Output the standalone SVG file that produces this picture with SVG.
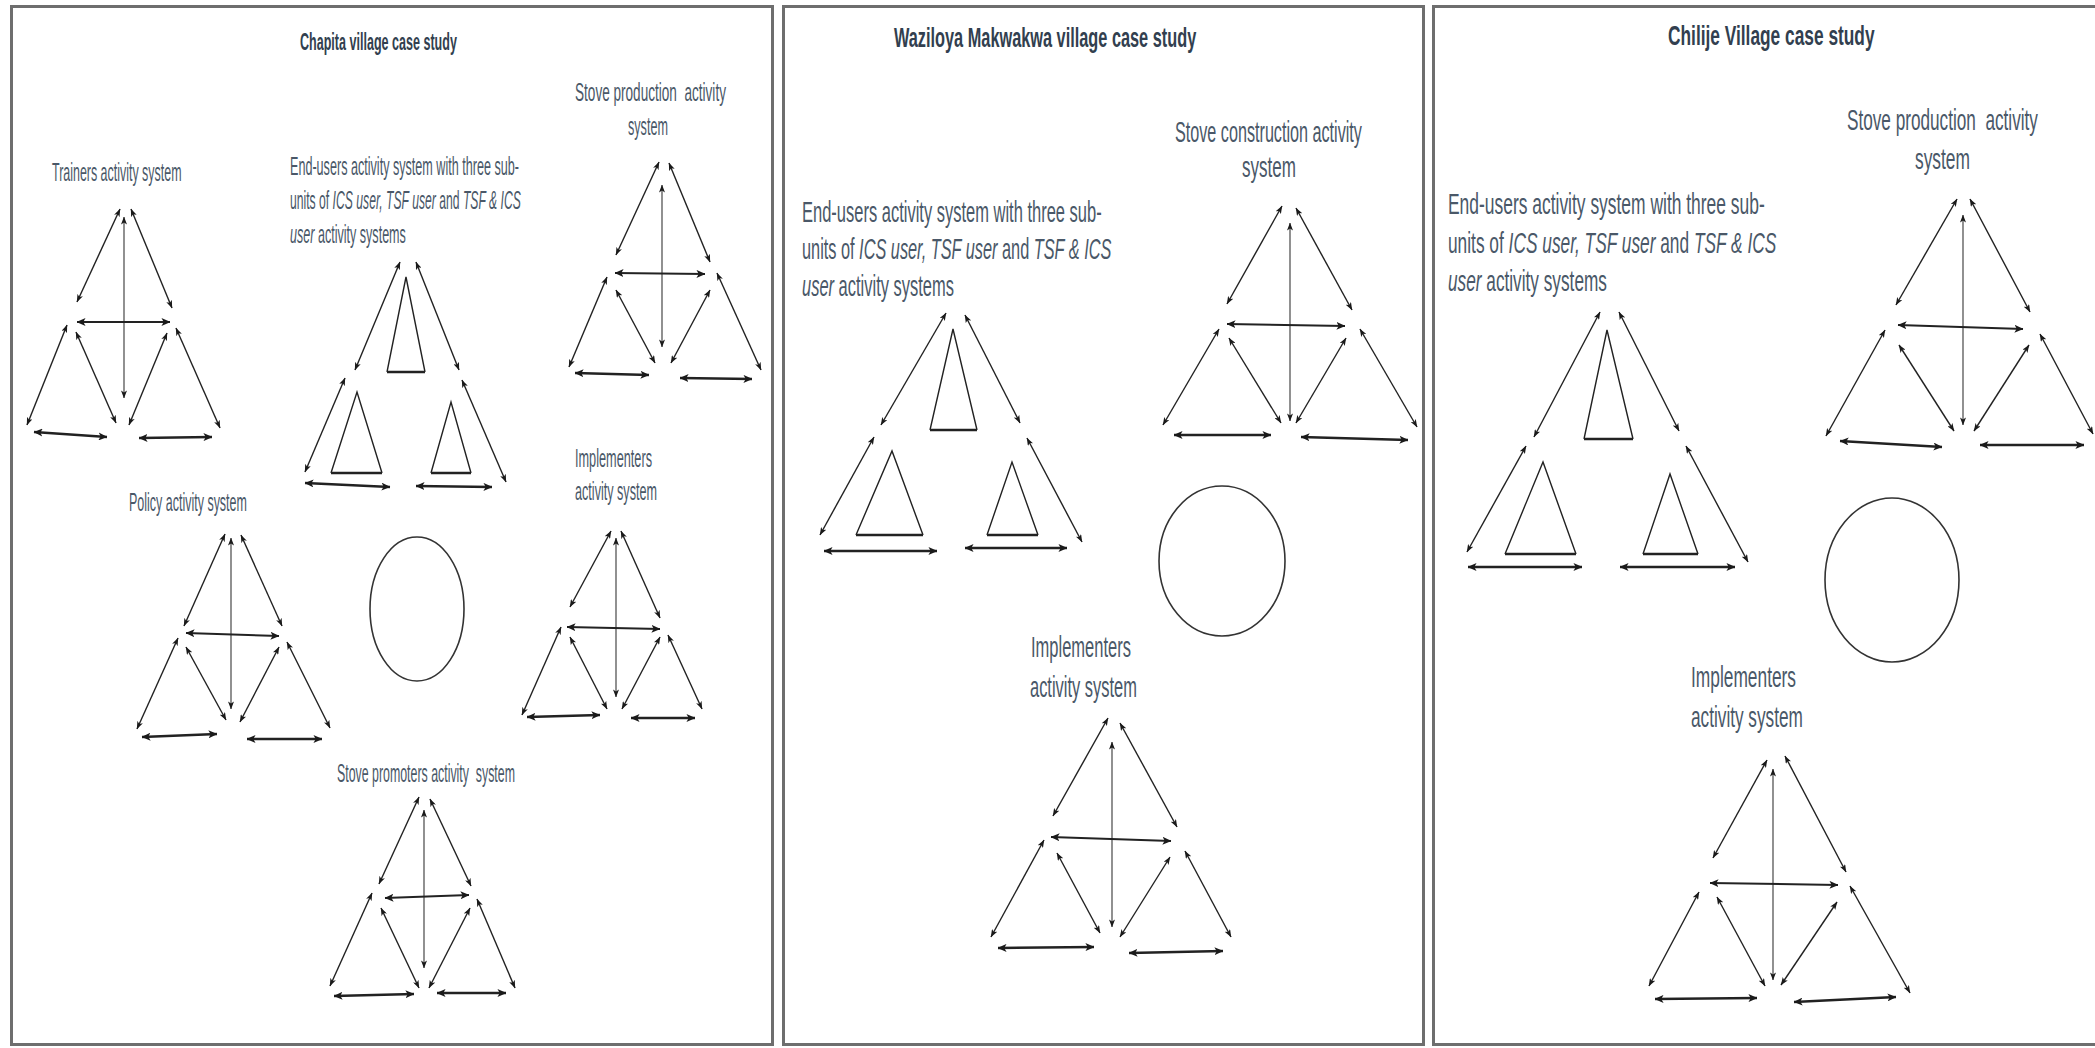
<svg xmlns="http://www.w3.org/2000/svg" width="2095" height="1048" viewBox="0 0 2095 1048">
<style>
.panel{fill:#fff;stroke:#6e6e6e;stroke-width:3}
.title{font-family:"Liberation Sans",Arial,sans-serif;font-weight:bold;fill:#323f4f}
.lbl{font-family:"Liberation Sans",Arial,sans-serif;fill:#4a5868}
.p1{font-size:25px}.p2{font-size:29px}.p3{font-size:30px}
.it{font-style:italic}
.a{stroke:#222;stroke-width:1.4;fill:none;marker-start:url(#ah);marker-end:url(#ah)}
.v{stroke:#555;stroke-width:1.3;fill:none;marker-start:url(#ah);marker-end:url(#ah)}
.m{stroke:#222;stroke-width:2;fill:none;marker-start:url(#ahb);marker-end:url(#ahb)}
.b{stroke:#222;stroke-width:2.6;fill:none;marker-start:url(#ahb);marker-end:url(#ahb)}
.tri{fill:none;stroke:#222;stroke-width:1.4}
.base{stroke:#222;stroke-width:2.4}
.ell{fill:none;stroke:#333;stroke-width:1.6}
</style>
<defs>
<marker id="ah" viewBox="0 0 10 10" refX="9.5" refY="5" markerWidth="8" markerHeight="6" markerUnits="userSpaceOnUse" orient="auto-start-reverse" preserveAspectRatio="none"><path d="M0,0 L10,5 L0,10 L2.5,5 z" fill="#1a1a1a"/></marker>
<marker id="ahb" viewBox="0 0 10 10" refX="9.5" refY="5" markerWidth="9" markerHeight="8" markerUnits="userSpaceOnUse" orient="auto-start-reverse" preserveAspectRatio="none"><path d="M0,0 L10,5 L0,10 L2.5,5 z" fill="#1a1a1a"/></marker>
</defs>
<rect width="2095" height="1048" fill="#fff"/>
<g id="panels">
<rect class="panel" x="11.5" y="6.5" width="761" height="1038"/>
<rect class="panel" x="783.5" y="6.5" width="640" height="1038"/>
<rect class="panel" x="1433.5" y="6.5" width="700" height="1038"/>
</g>
<g id="titles">
<text class="title" font-size="24" transform="translate(300,50) scale(0.523,1)">Chapita village case study</text>
<text class="title" font-size="27" transform="translate(894,47) scale(0.6045,1)">Waziloya Makwakwa village case study</text>
<text class="title" font-size="27" transform="translate(1668,45) scale(0.6415,1)">Chilije Village case study</text>
</g>
<g id="p1-trainers">
<text class="lbl p1" transform="translate(52,181) scale(0.498,1)">Trainers activity system</text>
</g>
<g id="p1-stove-production">
<text class="lbl p1" transform="translate(575,101) scale(0.5434,1)" xml:space="preserve">Stove production  activity</text>
<text class="lbl p1" transform="translate(628,135) scale(0.505,1)">system</text>
</g>
<g id="p1-end-users">
<text class="lbl p1" transform="translate(290,175) scale(0.504,1)">End-users activity system with three sub-</text>
<text class="lbl p1" transform="translate(290,209) scale(0.4868,1)">units of <tspan class="it">ICS user, TSF user</tspan> and <tspan class="it">TSF &amp; ICS</tspan></text>
<text class="lbl p1" transform="translate(290,243) scale(0.503,1)"><tspan class="it">user</tspan> activity systems</text>
<polyline class="tri" points="387,372 406,277 425,372"/><line class="base" x1="387" y1="372" x2="425" y2="372"/>
<polyline class="tri" points="331,473 357,392 382,473"/><line class="base" x1="331" y1="473" x2="382" y2="473"/>
<polyline class="tri" points="431,473 451,402 471,473"/><line class="base" x1="431" y1="473" x2="471" y2="473"/>
</g>
<g id="p1-object">
<ellipse class="ell" cx="417" cy="609" rx="47" ry="72"/>
</g>
<g id="p1-implementers">
<text class="lbl p1" transform="translate(575,467) scale(0.5085,1)">Implementers</text>
<text class="lbl p1" transform="translate(575,500) scale(0.5046,1)">activity system</text>
</g>
<g id="p1-policy">
<text class="lbl p1" transform="translate(129,511) scale(0.4996,1)">Policy activity system</text>
</g>
<g id="p1-stove-promoters">
<text class="lbl p1" transform="translate(337,782) scale(0.4947,1)" xml:space="preserve">Stove promoters activity  system</text>
</g>
<g id="p2-stove-construction">
<text class="lbl p2" transform="translate(1175,142) scale(0.5579,1)">Stove construction activity</text>
<text class="lbl p2" transform="translate(1242,177) scale(0.588,1)">system</text>
</g>
<g id="p2-end-users">
<text class="lbl p2" transform="translate(802,222) scale(0.569,1)">End-users activity system with three sub-</text>
<text class="lbl p2" transform="translate(802,259) scale(0.5626,1)">units of <tspan class="it">ICS user, TSF user</tspan> and <tspan class="it">TSF &amp; ICS</tspan></text>
<text class="lbl p2" transform="translate(802,296) scale(0.568,1)"><tspan class="it">user</tspan> activity systems</text>
<polyline class="tri" points="930,430 953,329 977,430"/><line class="base" x1="930" y1="430" x2="977" y2="430"/>
<polyline class="tri" points="856,535 892,451 923,535"/><line class="base" x1="856" y1="535" x2="923" y2="535"/>
<polyline class="tri" points="987,535 1012,462 1038,535"/><line class="base" x1="987" y1="535" x2="1038" y2="535"/>
</g>
<g id="p2-object">
<ellipse class="ell" cx="1222" cy="561" rx="63" ry="75"/>
</g>
<g id="p2-implementers">
<text class="lbl p2" transform="translate(1031,657) scale(0.569,1)">Implementers</text>
<text class="lbl p2" transform="translate(1030,697) scale(0.5676,1)">activity system</text>
</g>
<g id="p3-stove-production">
<text class="lbl p3" transform="translate(1847,130) scale(0.5727,1)" xml:space="preserve">Stove production  activity</text>
<text class="lbl p3" transform="translate(1915,169) scale(0.579,1)">system</text>
</g>
<g id="p3-end-users">
<text class="lbl p3" transform="translate(1448,214) scale(0.5815,1)">End-users activity system with three sub-</text>
<text class="lbl p3" transform="translate(1448,253) scale(0.577,1)">units of <tspan class="it">ICS user, TSF user</tspan> and <tspan class="it">TSF &amp; ICS</tspan></text>
<text class="lbl p3" transform="translate(1448,291) scale(0.5746,1)"><tspan class="it">user</tspan> activity systems</text>
<polyline class="tri" points="1584,439 1607,330 1633,439"/><line class="base" x1="1584" y1="439" x2="1633" y2="439"/>
<polyline class="tri" points="1505,554 1543,462 1576,554"/><line class="base" x1="1505" y1="554" x2="1576" y2="554"/>
<polyline class="tri" points="1643,554 1670,474 1698,554"/><line class="base" x1="1643" y1="554" x2="1698" y2="554"/>
</g>
<g id="p3-object">
<ellipse class="ell" cx="1892" cy="580" rx="67" ry="82"/>
</g>
<g id="p3-implementers">
<text class="lbl p3" transform="translate(1691,687) scale(0.578,1)">Implementers</text>
<text class="lbl p3" transform="translate(1691,727) scale(0.574,1)">activity system</text>
</g>
<g id="connectors">
<g id="c-p1-trainers">
<line class="a" x1="120" y1="209" x2="77" y2="302"/>
<line class="a" x1="131" y1="209" x2="172" y2="308"/>
<line class="v" x1="124" y1="217" x2="124" y2="398"/>
<line class="m" x1="77" y1="322" x2="170" y2="322"/>
<line class="a" x1="67" y1="325" x2="27" y2="425"/>
<line class="a" x1="76" y1="332" x2="116" y2="423"/>
<line class="a" x1="167" y1="333" x2="129" y2="425"/>
<line class="a" x1="176" y1="328" x2="220" y2="428"/>
<line class="b" x1="34" y1="432" x2="107" y2="437"/>
<line class="b" x1="139" y1="438" x2="212" y2="437"/>
</g>
<g id="c-p1-stove-production">
<line class="a" x1="659" y1="162" x2="616" y2="255"/>
<line class="a" x1="669" y1="163" x2="710" y2="262"/>
<line class="v" x1="662" y1="185" x2="662" y2="347"/>
<line class="m" x1="615" y1="273" x2="705" y2="274"/>
<line class="a" x1="607" y1="277" x2="569" y2="367"/>
<line class="a" x1="616" y1="290" x2="655" y2="363"/>
<line class="a" x1="710" y1="290" x2="671" y2="363"/>
<line class="a" x1="717" y1="273" x2="761" y2="370"/>
<line class="b" x1="575" y1="373" x2="649" y2="375"/>
<line class="b" x1="680" y1="378" x2="752" y2="379"/>
</g>
<g id="c-p1-end-users">
<line class="a" x1="400" y1="262" x2="355" y2="370"/>
<line class="a" x1="416" y1="262" x2="459" y2="370"/>
<line class="a" x1="345" y1="378" x2="305" y2="472"/>
<line class="a" x1="462" y1="380" x2="506" y2="482"/>
<line class="b" x1="305" y1="483" x2="390" y2="487"/>
<line class="b" x1="416" y1="486" x2="492" y2="487"/>
</g>
<g id="c-p1-policy">
<line class="a" x1="225" y1="534" x2="184" y2="626"/>
<line class="a" x1="241" y1="535" x2="282" y2="626"/>
<line class="v" x1="231" y1="538" x2="231" y2="709"/>
<line class="m" x1="186" y1="633" x2="279" y2="636"/>
<line class="a" x1="178" y1="638" x2="137" y2="729"/>
<line class="a" x1="186" y1="647" x2="226" y2="720"/>
<line class="a" x1="279" y1="647" x2="240" y2="722"/>
<line class="a" x1="287" y1="642" x2="330" y2="728"/>
<line class="b" x1="142" y1="737" x2="217" y2="734"/>
<line class="b" x1="247" y1="739" x2="322" y2="739"/>
</g>
<g id="c-p1-implementers">
<line class="a" x1="611" y1="531" x2="570" y2="607"/>
<line class="a" x1="621" y1="531" x2="660" y2="618"/>
<line class="v" x1="616" y1="538" x2="616" y2="697"/>
<line class="m" x1="567" y1="627" x2="660" y2="629"/>
<line class="a" x1="561" y1="627" x2="522" y2="715"/>
<line class="a" x1="570" y1="637" x2="607" y2="709"/>
<line class="a" x1="660" y1="637" x2="622" y2="709"/>
<line class="a" x1="668" y1="635" x2="702" y2="709"/>
<line class="b" x1="527" y1="717" x2="600" y2="715"/>
<line class="b" x1="631" y1="718" x2="695" y2="718"/>
</g>
<g id="c-p1-stove-promoters">
<line class="a" x1="419" y1="797" x2="379" y2="884"/>
<line class="a" x1="430" y1="799" x2="471" y2="886"/>
<line class="v" x1="424" y1="810" x2="424" y2="968"/>
<line class="m" x1="385" y1="898" x2="469" y2="895"/>
<line class="a" x1="372" y1="893" x2="330" y2="986"/>
<line class="a" x1="381" y1="908" x2="419" y2="988"/>
<line class="a" x1="470" y1="908" x2="429" y2="988"/>
<line class="a" x1="477" y1="899" x2="515" y2="988"/>
<line class="b" x1="334" y1="996" x2="414" y2="994"/>
<line class="b" x1="437" y1="993" x2="506" y2="993"/>
</g>
<g id="c-p2-end-users">
<line class="a" x1="946" y1="313" x2="881" y2="425"/>
<line class="a" x1="965" y1="315" x2="1020" y2="423"/>
<line class="a" x1="874" y1="437" x2="820" y2="535"/>
<line class="a" x1="1027" y1="438" x2="1082" y2="542"/>
<line class="b" x1="824" y1="551" x2="937" y2="551"/>
<line class="b" x1="965" y1="548" x2="1067" y2="548"/>
</g>
<g id="c-p2-stove-construction">
<line class="a" x1="1282" y1="206" x2="1227" y2="304"/>
<line class="a" x1="1296" y1="208" x2="1352" y2="310"/>
<line class="v" x1="1290" y1="223" x2="1290" y2="421"/>
<line class="m" x1="1227" y1="324" x2="1345" y2="326"/>
<line class="a" x1="1219" y1="329" x2="1163" y2="425"/>
<line class="a" x1="1229" y1="338" x2="1281" y2="423"/>
<line class="a" x1="1346" y1="338" x2="1296" y2="423"/>
<line class="a" x1="1360" y1="329" x2="1417" y2="427"/>
<line class="b" x1="1174" y1="435" x2="1271" y2="435"/>
<line class="b" x1="1301" y1="437" x2="1408" y2="440"/>
</g>
<g id="c-p2-implementers">
<line class="a" x1="1108" y1="718" x2="1053" y2="816"/>
<line class="a" x1="1120" y1="723" x2="1177" y2="827"/>
<line class="v" x1="1112" y1="742" x2="1112" y2="927"/>
<line class="m" x1="1051" y1="837" x2="1171" y2="841"/>
<line class="a" x1="1044" y1="840" x2="991" y2="937"/>
<line class="a" x1="1057" y1="853" x2="1100" y2="933"/>
<line class="a" x1="1170" y1="857" x2="1120" y2="937"/>
<line class="a" x1="1185" y1="851" x2="1231" y2="937"/>
<line class="b" x1="998" y1="948" x2="1094" y2="947"/>
<line class="b" x1="1129" y1="953" x2="1223" y2="951"/>
</g>
<g id="c-p3-end-users">
<line class="a" x1="1600" y1="312" x2="1534" y2="437"/>
<line class="a" x1="1619" y1="312" x2="1679" y2="431"/>
<line class="a" x1="1526" y1="446" x2="1467" y2="552"/>
<line class="a" x1="1686" y1="446" x2="1748" y2="562"/>
<line class="b" x1="1468" y1="567" x2="1582" y2="567"/>
<line class="b" x1="1620" y1="567" x2="1735" y2="567"/>
</g>
<g id="c-p3-stove-production">
<line class="a" x1="1957" y1="199" x2="1896" y2="305"/>
<line class="a" x1="1970" y1="199" x2="2030" y2="312"/>
<line class="v" x1="1963" y1="215" x2="1963" y2="425"/>
<line class="m" x1="1898" y1="325" x2="2023" y2="329"/>
<line class="a" x1="1885" y1="330" x2="1826" y2="436"/>
<line class="a" x1="1899" y1="345" x2="1954" y2="431"/>
<line class="a" x1="2029" y1="345" x2="1974" y2="431"/>
<line class="a" x1="2040" y1="334" x2="2093" y2="434"/>
<line class="b" x1="1840" y1="441" x2="1942" y2="447"/>
<line class="b" x1="1980" y1="445" x2="2084" y2="445"/>
</g>
<g id="c-p3-implementers">
<line class="a" x1="1767" y1="760" x2="1713" y2="858"/>
<line class="a" x1="1785" y1="756" x2="1846" y2="872"/>
<line class="v" x1="1773" y1="769" x2="1773" y2="980"/>
<line class="m" x1="1710" y1="883" x2="1838" y2="885"/>
<line class="a" x1="1699" y1="892" x2="1649" y2="986"/>
<line class="a" x1="1717" y1="897" x2="1765" y2="986"/>
<line class="a" x1="1837" y1="902" x2="1781" y2="985"/>
<line class="a" x1="1850" y1="886" x2="1910" y2="993"/>
<line class="b" x1="1655" y1="999" x2="1757" y2="998"/>
<line class="b" x1="1794" y1="1002" x2="1896" y2="997"/>
</g>
</g>
</svg>
